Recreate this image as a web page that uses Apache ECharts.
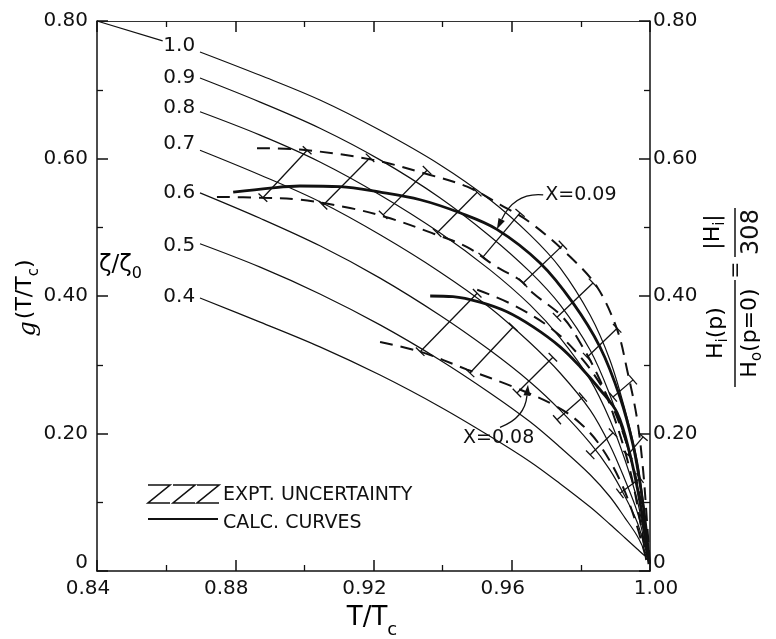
<!DOCTYPE html>
<html><head><meta charset="utf-8">
<script src="https://cdn.jsdelivr.net/npm/echarts@6/dist/echarts.min.js"></script>
<style>html,body{margin:0;padding:0;background:#fff}#c{width:776px;height:639px}</style>
</head><body><div id="c"></div>
<script>
// ---- data (T/Tc on x, zeta/zeta0 on y) ----
const xTicks = [0.84, 0.88, 0.92, 0.96, 1.00];
const yTicks = [0, 0.20, 0.40, 0.60, 0.80];
// common T/Tc samples of the calculated (thin) curves
const T = [0.8698, 0.8872, 0.9045, 0.9219, 0.9392, 0.9537, 0.9653, 0.9740, 0.9827, 0.9884, 0.9928, 0.9963, 0.9983, 0.9994];
const z10 = [0.755,0.721,0.685,0.641,0.591,0.540,0.489,0.441,0.372,0.307,0.234,0.161,0.089,0.023];
const z09 = [0.717,0.682,0.644,0.598,0.543,0.487,0.435,0.387,0.321,0.256,0.191,0.125,0.067,0.020];
const z08 = [0.668,0.634,0.595,0.547,0.492,0.438,0.387,0.339,0.278,0.220,0.161,0.103,0.052,0.020];
const z07 = [0.612,0.576,0.537,0.489,0.435,0.383,0.332,0.288,0.234,0.183,0.132,0.086,0.045,0.020];
const z06 = [0.550,0.513,0.473,0.426,0.372,0.321,0.275,0.234,0.186,0.147,0.108,0.071,0.038,0.020];
const z05 = [0.476,0.442,0.403,0.358,0.307,0.259,0.217,0.180,0.140,0.108,0.077,0.051,0.031,0.020];
const z04 = [0.397,0.362,0.326,0.285,0.239,0.196,0.159,0.127,0.093,0.068,0.048,0.032,0.023,0.020];
const lead10T = [0.84, 0.8590];
const lead10 = [0.80, 0.771];
const curveLabels = ['1.0','0.9','0.8','0.7','0.6','0.5','0.4'];
const curveLabelT = 0.8684;
const curveLabelY = [0.764,0.717,0.674,0.621,0.550,0.473,0.399];

// X = 0.09 : bold curve and dashed uncertainty bounds
const b09T = [0.8794,0.8901,0.8987,0.9103,0.9219,0.9335,0.9450,0.9557,0.9682,0.9777,0.9855,0.9913,0.9951,0.9974,0.9989,0.9997];
const b09  = [0.551,0.557,0.560,0.559,0.551,0.540,0.521,0.497,0.448,0.390,0.326,0.253,0.183,0.118,0.060,0.016];
const u09T = [0.8863,0.8987,0.9199,0.9364,0.9471,0.9566,0.9653,0.9769,0.9847,0.9905,0.9934,0.9963,0.9980,0.9991,1.0000];
const u09  = [0.615,0.613,0.598,0.576,0.559,0.533,0.507,0.457,0.413,0.351,0.292,0.220,0.147,0.074,0.007];
const l09T = [0.8747,0.8872,0.8987,0.9132,0.9248,0.9372,0.9471,0.9557,0.9624,0.9662,0.9748,0.9798,0.9855,0.9899,0.9942,0.9971,0.9989];
const l09  = [0.544,0.543,0.540,0.528,0.513,0.491,0.471,0.442,0.423,0.404,0.369,0.332,0.278,0.220,0.147,0.074,0.016];
// X = 0.08
const b08T = [0.9364,0.9430,0.9508,0.9586,0.9662,0.9740,0.9798,0.9855,0.9905,0.9942,0.9971,0.9989,0.9997];
const b08  = [0.400,0.399,0.391,0.377,0.355,0.326,0.297,0.264,0.230,0.170,0.100,0.040,0.010];
const u08T = [0.9500,0.9604,0.9719,0.9806,0.9870,0.9919,0.9957,0.9983,0.9997];
const u08  = [0.409,0.387,0.351,0.307,0.260,0.205,0.140,0.074,0.016];
const l08T = [0.9219,0.9335,0.9471,0.9604,0.9731,0.9798,0.9855,0.9913,0.9957,0.9986];
const l08  = [0.333,0.319,0.293,0.268,0.239,0.215,0.183,0.132,0.074,0.023];
// experimental uncertainty bars: [T1, z1, T2, z2]
const bars09 = [[0.8880,0.543,0.9008,0.612],[0.9054,0.532,0.9190,0.601],[0.9228,0.518,0.9355,0.583],[0.9384,0.492,0.9500,0.551],[0.9517,0.457,0.9624,0.521],[0.9633,0.419,0.9748,0.474],[0.9731,0.369,0.9835,0.419],[0.9818,0.311,0.9905,0.353],[0.9893,0.253,0.9951,0.278],[0.9936,0.169,0.9980,0.195]];
const bars08 = [[0.9335,0.319,0.9500,0.404],[0.9479,0.288,0.9604,0.355],[0.9615,0.259,0.9719,0.311],[0.9731,0.220,0.9806,0.253],[0.9827,0.169,0.9893,0.201],[0.9913,0.113,0.9971,0.135]];
// annotations
const noteText = ['X=0.09', 'X=0.08'];
const noteT = [0.9697, 0.9459];
const noteY = [0.547, 0.193];
// leaders: [startT, startZ, ctrlT, ctrlZ, tipT, tipZ]
const leaders = [[0.9691,0.547,0.9609,0.551,0.9557,0.497],[0.9566,0.209,0.9638,0.2225,0.9647,0.271]];

// ---- chart ----
const FONT = '"DejaVu Sans", sans-serif';
const INK = '#111';
const pairs = (xs, ys) => xs.map((x, i) => [x, ys[i]]);

function lineSeries(xs, ys, width, dashed) {
  return {
    type: 'line', data: pairs(xs, ys), showSymbol: false, symbol: 'none',
    smooth: 0.35, silent: true, z: dashed ? 3 : 4,
    lineStyle: { color: INK, width: width, type: dashed ? [13, 8] : 'solid', cap: 'butt' }
  };
}

const series = [];
[z10, z09, z08, z07, z06, z05, z04].forEach(z => series.push(lineSeries(T, z, 1.2, false)));
series.push(lineSeries(lead10T, lead10, 1.2, false));
series.push(lineSeries(b09T, b09, 2.8, false));
series.push(lineSeries(b08T, b08, 2.8, false));
series.push(lineSeries(u09T, u09, 2, true));
series.push(lineSeries(l09T, l09, 2, true));
series.push(lineSeries(u08T, u08, 2, true));
series.push(lineSeries(l08T, l08, 2, true));

series.push({
  type: 'custom', coordinateSystem: 'cartesian2d', silent: true, clip: false,
  encode: { x: [0, 2], y: [1, 3] },
  data: bars09.concat(bars08),
  renderItem: (params, api) => {
    const a = api.coord([api.value(0), api.value(1)]);
    const b = api.coord([api.value(2), api.value(3)]);
    const dx = b[0] - a[0], dy = b[1] - a[1], L = Math.hypot(dx, dy);
    const nx = -dy / L * 6, ny = dx / L * 6;
    const st = { stroke: INK, lineWidth: 1.3 };
    return { type: 'group', children: [
      { type: 'line', shape: { x1: a[0], y1: a[1], x2: b[0], y2: b[1] }, style: st },
      { type: 'line', shape: { x1: a[0] - nx, y1: a[1] - ny, x2: a[0] + nx, y2: a[1] + ny }, style: st },
      { type: 'line', shape: { x1: b[0] - nx, y1: b[1] - ny, x2: b[0] + nx, y2: b[1] + ny }, style: st }
    ]};
  }
});

series.push({
  type: 'custom', coordinateSystem: 'cartesian2d', silent: true, clip: false,
  encode: { x: [0, 2, 4], y: [1, 3, 5] },
  data: leaders,
  renderItem: (params, api) => {
    const s = api.coord([api.value(0), api.value(1)]);
    const c = api.coord([api.value(2), api.value(3)]);
    const t = api.coord([api.value(4), api.value(5)]);
    const dx = t[0] - c[0], dy = t[1] - c[1], L = Math.hypot(dx, dy);
    const ux = dx / L, uy = dy / L;
    const bx = t[0] - ux * 11, by = t[1] - uy * 11;
    return { type: 'group', children: [
      { type: 'bezierCurve', shape: { x1: s[0], y1: s[1], cpx1: c[0], cpy1: c[1], x2: bx, y2: by }, style: { stroke: INK, lineWidth: 1.3, fill: null } },
      { type: 'polygon', shape: { points: [[t[0], t[1]], [bx - uy * 3.5, by + ux * 3.5], [bx + uy * 3.5, by - ux * 3.5]] }, style: { fill: INK } }
    ]};
  }
});

series.push({
  type: 'custom', coordinateSystem: 'cartesian2d', silent: true, clip: false,
  data: curveLabelY.map(y => [curveLabelT, y]),
  renderItem: (params, api) => {
    const p = api.coord([api.value(0), api.value(1)]);
    return { type: 'text', x: p[0], y: p[1], style: { text: curveLabels[params.dataIndex], font: '20px ' + FONT, fill: INK, align: 'right', verticalAlign: 'middle' } };
  }
});
series.push({
  type: 'custom', coordinateSystem: 'cartesian2d', silent: true, clip: false,
  data: noteT.map((t, i) => [t, noteY[i]]),
  renderItem: (params, api) => {
    const p = api.coord([api.value(0), api.value(1)]);
    return { type: 'text', x: p[0], y: p[1], style: { text: noteText[params.dataIndex], font: '19px ' + FONT, fill: INK, align: 'left', verticalAlign: 'middle' } };
  }
});

const lblRich = {
  n: { fontSize: 20, fontFamily: FONT, color: INK },
  z: { fontSize: 20, fontFamily: FONT, color: INK, padding: [0, 0, 16, 0] },
  a: { fontSize: 20, fontFamily: FONT, color: INK, padding: [0, 18, 0, 0] },
  b: { fontSize: 20, fontFamily: FONT, color: INK, padding: [0, 0, 0, 12] }
};
const yFmt = v => Math.abs(v) < 1e-9 ? '{z|0}' : '{n|' + v.toFixed(2) + '}';
const xFmt = v => v > 0.999 ? '{b|' + v.toFixed(2) + '}' : '{a|' + v.toFixed(2) + '}';

function axisBase(extra) {
  return Object.assign({
    type: 'value', splitLine: { show: false },
    axisLine: { show: true, onZero: false, lineStyle: { color: INK, width: 1.5 } },
    axisTick: { show: true, inside: true, length: 11, lineStyle: { color: INK, width: 1.5 } },
    minorTick: { show: true, splitNumber: 2, length: 6, lineStyle: { color: INK, width: 1.3 } },
    minorSplitLine: { show: false }
  }, extra);
}

const sub = (size, pad) => ({ fontSize: size, fontFamily: FONT, color: INK, verticalAlign: 'top', padding: [pad, 0, 0, 0] });
const main = size => ({ fontSize: size, fontFamily: FONT, color: INK, verticalAlign: 'top' });

const option = {
  animation: false,
  backgroundColor: '#fff',
  grid: { left: 97, right: 126, top: 21, bottom: 68, containLabel: false, outerBoundsMode: 'none' },
  xAxis: [
    axisBase({ min: xTicks[0], max: xTicks[xTicks.length - 1], interval: 0.04, position: 'bottom',
      axisLabel: { show: true, margin: 8, showMinLabel: true, showMaxLabel: true, formatter: xFmt, rich: lblRich } }),
    axisBase({ min: xTicks[0], max: xTicks[xTicks.length - 1], interval: 0.04, position: 'top',
      axisLine: { show: true, onZero: false, lineStyle: { color: '#333', width: 1 } },
      axisLabel: { show: false } })
  ],
  yAxis: [
    axisBase({ min: yTicks[0], max: yTicks[yTicks.length - 1], interval: 0.2, position: 'left',
      axisLabel: { show: true, margin: 9, showMinLabel: true, showMaxLabel: true, formatter: yFmt, rich: lblRich } }),
    axisBase({ min: yTicks[0], max: yTicks[yTicks.length - 1], interval: 0.2, position: 'right',
      axisLabel: { show: true, margin: 3, showMinLabel: true, showMaxLabel: true, formatter: yFmt, rich: lblRich } })
  ],
  series: series,
  graphic: [
    // x-axis title
    { type: 'text', x: 372, y: 622, silent: true,
      style: { text: '{a|T/T}{s|c}', align: 'center', verticalAlign: 'middle', textAlign: 'center', textVerticalAlign: 'middle',
        rich: { a: main(26), s: sub(18, 16) } } },
    // left y title
    { type: 'text', x: 28, y: 298, rotation: Math.PI / 2, silent: true,
      style: { text: '{g|g}{a|(T/T}{s|c}{a|)}', align: 'center', verticalAlign: 'middle', textAlign: 'center', textVerticalAlign: 'middle',
        rich: { g: { fontSize: 24, fontFamily: '"DejaVu Serif", serif', fontStyle: 'italic', color: INK, verticalAlign: 'top', padding: [2, 2, 0, 0] }, a: main(22), s: sub(15, 12) } } },
    // zeta / zeta0
    { type: 'text', x: 99, y: 268, silent: true,
      style: { text: '{a|ζ/ζ}{s|0}', align: 'left', verticalAlign: 'middle', textAlign: 'left', textVerticalAlign: 'middle',
        rich: { a: main(23), s: sub(16, 12) } } },
    // right title (rotated)
    { type: 'group', x: 735, y: 297, rotation: Math.PI / 2, silent: true, children: [
      { type: 'text', x: -36, y: -17, style: { text: '{a|H}{s|i}{a|(p)}', align: 'center', verticalAlign: 'middle', rich: { a: main(22), s: sub(15, 11) } } },
      { type: 'line', shape: { x1: -90, y1: 0, x2: 17, y2: 0 }, style: { stroke: INK, lineWidth: 1.5 } },
      { type: 'text', x: -36, y: 17, style: { text: '{a|H}{s|o}{a|(p=0)}', align: 'center', verticalAlign: 'middle', rich: { a: main(22), s: sub(15, 11) } } },
      { type: 'text', x: 27, y: 1, style: { text: '=', font: '20px ' + FONT, fill: INK, align: 'center', verticalAlign: 'middle' } },
      { type: 'text', x: 65, y: -20, style: { text: '{a||H}{s|i}{a||}', align: 'center', verticalAlign: 'middle', rich: { a: main(22), s: sub(15, 11) } } },
      { type: 'line', shape: { x1: 40, y1: 0, x2: 89, y2: 0 }, style: { stroke: INK, lineWidth: 1.5 } },
      { type: 'text', x: 65, y: 17, style: { text: '308', font: '24px ' + FONT, fill: INK, align: 'center', verticalAlign: 'middle' } }
    ]},
    // legend
    { type: 'polyline', silent: true, shape: { points: [[148,485],[170,485],[148,503],[170,503]] }, style: { stroke: INK, lineWidth: 1.6, fill: null } },
    { type: 'polyline', silent: true, shape: { points: [[173,485],[195,485],[173,503],[195,503]] }, style: { stroke: INK, lineWidth: 1.6, fill: null } },
    { type: 'polyline', silent: true, shape: { points: [[197,485],[219,485],[197,503],[219,503]] }, style: { stroke: INK, lineWidth: 1.6, fill: null } },
    { type: 'text', x: 223, y: 495, silent: true, style: { text: 'EXPT. UNCERTAINTY', font: '19px ' + FONT, fill: INK, align: 'left', verticalAlign: 'middle' } },
    { type: 'line', silent: true, shape: { x1: 148, y1: 519, x2: 218, y2: 519 }, style: { stroke: INK, lineWidth: 2.2 } },
    { type: 'text', x: 223, y: 523, silent: true, style: { text: 'CALC. CURVES', font: '19px ' + FONT, fill: INK, align: 'left', verticalAlign: 'middle' } }
  ]
};

const chart = echarts.init(document.getElementById('c'), null, { renderer: 'canvas' });
chart.setOption(option);
</script>
</body></html>
